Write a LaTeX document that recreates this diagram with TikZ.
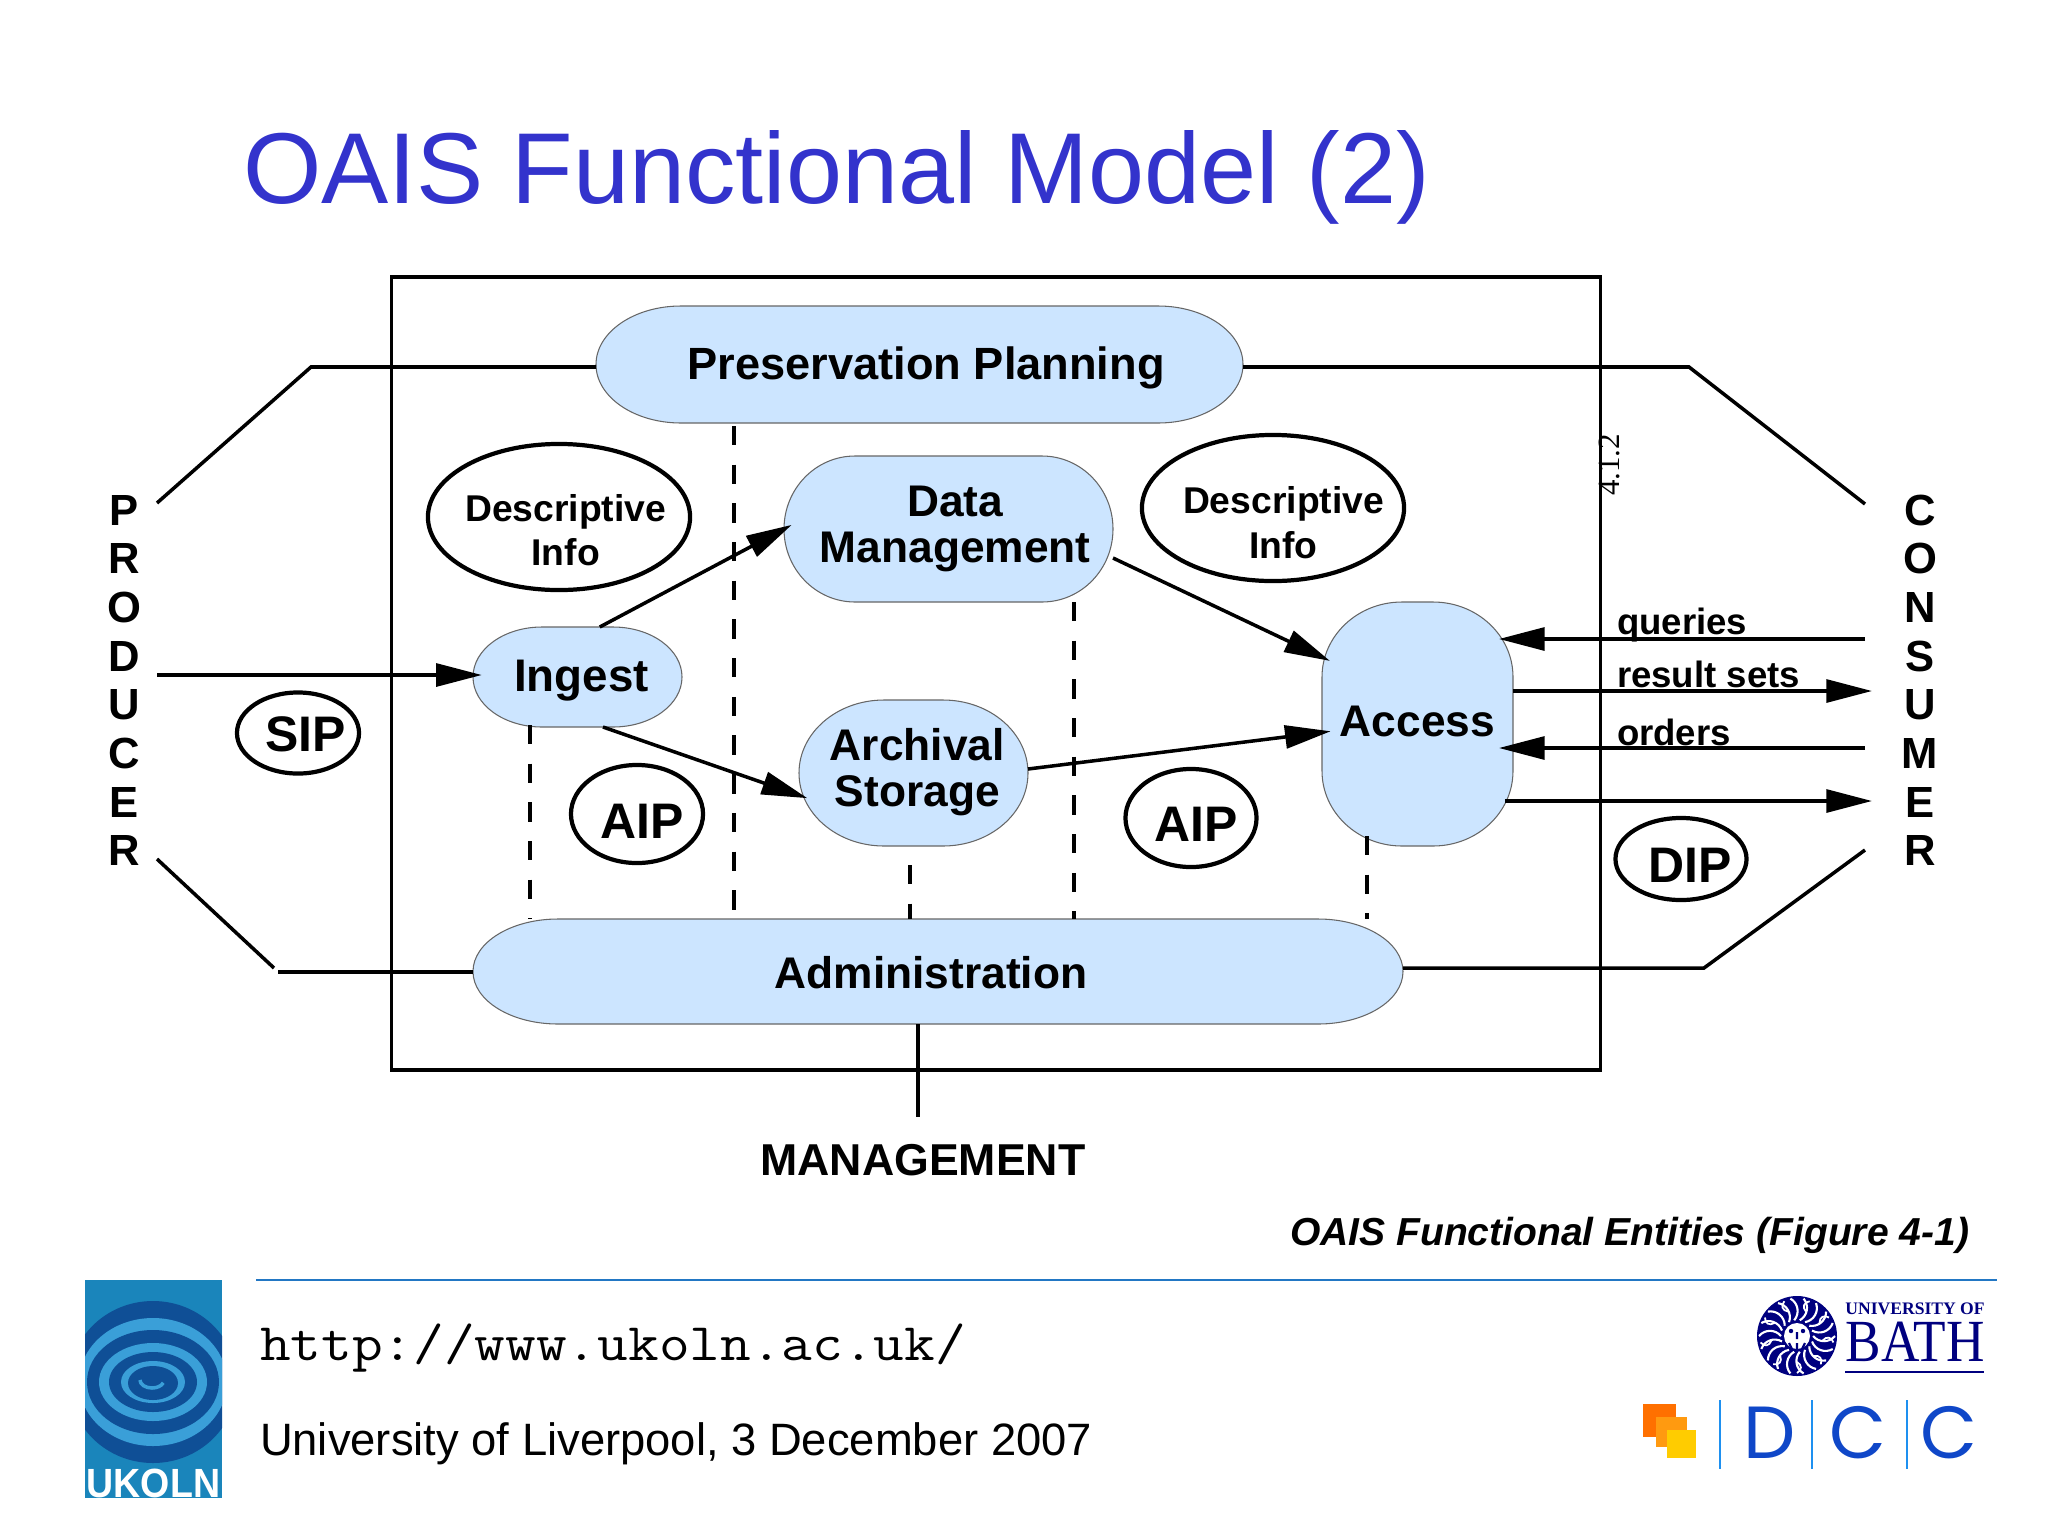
\documentclass[tikz,border=0pt]{standalone}
\usepackage{fontspec}
\setmainfont{Liberation Sans}
\newfontfamily\bathfont{Liberation Serif}
\newfontfamily\dccfont{Poppins}
\usetikzlibrary{arrows.meta,shapes.geometric}
\definecolor{titleblue}{HTML}{3333CC}
\definecolor{boxblue}{HTML}{CCE5FF}
\definecolor{ruleblue}{HTML}{2277C4}
\definecolor{bathblue}{HTML}{00007F}
\definecolor{dccblue}{HTML}{0F47C8}
\definecolor{dccbar}{HTML}{1E90F0}
\definecolor{dccone}{HTML}{FF7000}
\definecolor{dcctwo}{HTML}{FF9A10}
\definecolor{dccthree}{HTML}{FFCC00}
\definecolor{eyedark}{HTML}{0F4F96}
\definecolor{eyelight}{HTML}{3A9FD8}
\definecolor{eyeback}{HTML}{1A85BB}
\newcommand{\nudge}[3]{\raisebox{#2}[\height][\depth]{\makebox[0pt]{\hspace*{#1}#3}}}
\newcommand{\funcnode}[8]{%
  \draw [capsule] ({#2-#4/2},{#3-#5/2+#7})
    arc [start angle=180,end angle=270,x radius=#6,y radius=#7] -- ({#2+#4/2-#6},{#3-#5/2})
    arc [start angle=270,end angle=360,x radius=#6,y radius=#7] -- ({#2+#4/2},{#3+#5/2-#7})
    arc [start angle=0,end angle=90,x radius=#6,y radius=#7] -- ({#2-#4/2+#6},{#3+#5/2})
    arc [start angle=90,end angle=180,x radius=#6,y radius=#7] -- cycle;
  \node [func,minimum width={#4*0.01cm},minimum height={#5*0.01cm}] (#1) at (#2,#3) {#8};}
\begin{document}
\begin{tikzpicture}
      [x=0.01cm,y=-0.01cm,
       every node/.style={inner sep=0pt,outer sep=0pt},
       capsule/.style={draw=gray!80!black,line width=0.3pt,fill=boxblue},
       func/.style={align=center,font=\bfseries\fontsize{12.6}{13}\selectfont},
       tag/.style={draw,ellipse,line width=1.2pt,fill=white,align=center,
         font=\bfseries\fontsize{10.6}{12.6}\selectfont},
       pack/.style={tag,font=\bfseries\fontsize{14.2}{15}\selectfont},
       entity/.style={font=\bfseries\fontsize{12.4}{13}\selectfont},
       flow/.style={line width=1pt},
       flowtip/.style={flow,-{Triangle[length=13pt,width=6.5pt]}},
       dashln/.style={line width=1pt,dash pattern=on 5.5pt off 5.5pt},
       smalllbl/.style={anchor=base west,font=\bfseries\fontsize{10.4}{12}\selectfont}]
      \useasboundingbox (0,0) rectangle (2048,1536);

      \node [anchor=west,text=titleblue,font=\fontsize{28.65}{30}\selectfont] (title) at (243,177) {OAIS Functional Model (2)};

      \node [draw,line width=1pt,minimum width=12.08cm,minimum height=7.93cm] (frame) at (996,673.5) {};

      \funcnode{pp}{919.5}{364.5}{647}{117}{85}{58.5}{\nudge{3.8pt}{-1.1pt}{\fontsize{12.85}{13}\selectfont Preservation Planning}}
      \funcnode{dm}{948.5}{529}{329}{146}{71}{73}{\nudge{3.8pt}{0pt}{Data}\\\nudge{3.8pt}{0pt}{Management}}
      \funcnode{ing}{577.5}{677}{209}{100}{69}{50}{\nudge{2.2pt}{-1.1pt}{\fontsize{13}{13}\selectfont Ingest}}
      \funcnode{as}{913.5}{773}{229}{146}{85}{73}{\nudge{2.2pt}{0.3pt}{Archival}\\\nudge{2.2pt}{0.3pt}{Storage}}
      \funcnode{acc}{1417.5}{724}{191}{244}{80}{75}{\nudge{0pt}{0.7pt}{Access}}
      \funcnode{adm}{938}{971.5}{930}{105}{85}{52.5}{\nudge{-4pt}{-0.3pt}{Administration}}

      \node [tag,minimum width=2.62cm,minimum height=1.46cm] (di1) at (559,517) {\nudge{3.8pt}{-3.7pt}{Descriptive}\\\nudge{3.8pt}{-3.7pt}{Info}};
      \node [tag,minimum width=2.62cm,minimum height=1.46cm] (di2) at (1273,508) {\nudge{6pt}{-4.2pt}{Descriptive}\\\nudge{6pt}{-4.2pt}{Info}};
      \node [pack,minimum width=1.22cm,minimum height=0.81cm] (sip) at (298,733) {\nudge{4.4pt}{-0.4pt}{SIP}};
      \node [pack,minimum width=1.32cm,minimum height=0.98cm] (aip1) at (637,814) {\nudge{3pt}{-2.2pt}{AIP}};
      \node [pack,minimum width=1.31cm,minimum height=0.98cm] (aip2) at (1191,818) {\nudge{3pt}{-1.9pt}{AIP}};
      \node [pack,minimum width=1.31cm,minimum height=0.82cm] (dip) at (1681,859) {\nudge{5.2pt}{-1.9pt}{DIP}};

      \foreach \ch [count=\i] in {P,R,O,D,U,C,E,R}
      \node [entity] (prod\i) at (124,{510+(\i-1)*48.7}) {\ch};
      \foreach \ch [count=\i] in {C,O,N,S,U,M,E,R}
      \node [entity] (cons\i) at (1920,{510+(\i-1)*48.7}) {\ch};
      \node [entity,font=\bfseries\fontsize{12.7}{14}\selectfont] (mgmt) at (923,1160) {MANAGEMENT};

      \coordinate (pt) at (157,503);
      \coordinate (pt2) at (311,367);
      \coordinate (pm) at (157,675);
      \coordinate (pb) at (157,859);
      \coordinate (pb2) at (274,968);
      \coordinate (pb3) at (278,972);
      \coordinate (ct) at (1865,504);
      \coordinate (ct2) at (1689,367);
      \coordinate (cb) at (1865,850);
      \coordinate (cb2) at (1704,968);
      \coordinate (cq) at (1865,639);
      \coordinate (cr) at (1872,691);
      \coordinate (co) at (1865,748);
      \coordinate (cd) at (1872,801);
      \coordinate (mg) at (918,1117);
      \coordinate (dp) at (734,426);
      \coordinate (di) at (530,725);
      \coordinate (da) at (910,865);
      \coordinate (dd) at (1074,602);
      \coordinate (dx) at (1367,836);

      \foreach \from in {dp,di,da,dd,dx}
      \draw [dashln] (\from) -- (\from |- adm.north);

      \draw [flow] (pt) -- (pt2) -- (pp.west |- pt2);
      \draw [flow] (pp.east |- ct2) -- (ct2) -- (ct);
      \draw [flow] (pb) -- (pb2);
      \draw [flow] (pb3) -- (adm.west |- pb3);
      \draw [flow] (adm.east |- cb2) -- (cb2) -- (cb);
      \draw [flow] (adm.south -| mg) -- (mg);

      \foreach \from/\to in {pm/pm -| ing.west, ing.66/dm.180, ing.-63/as.191, dm.-10.5/acc.145, as.2.5/acc.185.4}
      \draw [flowtip,shorten >=-2.5pt] (\from) -- (\to);

      \foreach \from in {cq,co}
      \draw [flowtip,shorten >=-4pt] (\from) -- (\from -| acc.east);
      \draw [flowtip] (cr -| acc.east) -- (cr);
      \draw [flowtip,shorten <=-2.3pt] (cd -| acc.east) -- (cd);

      \node [smalllbl] (lq) at (1617,634) {queries};
      \node [smalllbl] (lr) at (1617,687) {result sets};
      \node [smalllbl] (lo) at (1617,745) {orders};

      \node [rotate=90,font=\bathfont\fontsize{8.8}{9}\selectfont] (ver) at (1609,465) {4.1.2};

      \node [anchor=east,font=\bfseries\itshape\fontsize{11.1}{12}\selectfont] (fig) at (1969,1235) {OAIS Functional Entities (Figure 4-1)};

      \draw [ruleblue,line width=0.7pt] (256,1280) -- (1997,1280);
      \node [anchor=west,xscale=1.13,font=\ttfamily\fontsize{15}{16}\selectfont] (url) at (260,1348) {http://www.ukoln.ac.uk/};
      \node [anchor=west,font=\fontsize{12.9}{14}\selectfont] (place) at (260,1444) {University of Liverpool, 3 December 2007};

      \begin{scope}
        \clip (85,1280) rectangle (222,1498);
        \fill [eyeback] (85,1280) rectangle (222,1498);
        \foreach \rx/\ry/\col in {84/81/eyedark,74/64/eyelight,66/52/eyedark,54/39/eyelight,44/30/eyedark,32/21/eyelight}
        \fill [\col] (153,1382) ellipse [x radius=\rx,y radius=\ry];
        \fill [eyedark] (153,1383) ellipse [x radius=25,y radius=17];
        \draw [eyelight,line width=1pt] (140,1380) arc [start angle=180,end angle=20,x radius=12,y radius=8];
      \end{scope}
      \node [text=white,xscale=0.92,font=\bfseries\fontsize{11.6}{12}\selectfont] (ukoln) at (153.5,1483) {UKOLN};

      \fill [bathblue] (1797,1336) circle [radius=40];
      \foreach \a in {0,20,...,340}
      \draw [white,line width=0.6pt] (1797,1336) ++(\a:16) .. controls +(\a+50:9) and +(\a-50:-9) .. ++(\a:22);
      \foreach \a in {10,50,...,350}
      \draw [white,line width=0.5pt] (1797,1336) ++(\a:26) .. controls +(\a-60:6) and +(\a+60:-6) .. ++(\a:11);
      \fill [white] (1797,1336) circle [radius=13];
      \fill [bathblue] (1791,1331) circle [radius=2.2] (1803,1331) circle [radius=2.2];
      \draw [bathblue,line width=0.6pt] (1797,1332) -- (1797,1339) (1789,1343) -- (1792,1349) (1797,1343) -- (1797,1349) (1805,1343) -- (1802,1349);
      \node [text=bathblue,font=\bathfont\bfseries\fontsize{5}{6}\selectfont] (bath1) at (1915,1309) {UNIVERSITY OF};
      \node [text=bathblue,xscale=0.89,font=\bathfont\fontsize{17}{18}\selectfont] (bath2) at (1915,1342) {BATH};
      \draw [bathblue,line width=0.8pt] (1845,1372) -- (1984,1372);

      \fill [dccone] (1643,1404) rectangle (1676,1437);
      \fill [dcctwo] (1656,1417) rectangle (1687,1447);
      \fill [dccthree] (1667,1430) rectangle (1696,1458);
      \foreach \x in {1720,1812,1907}
      \draw [dccbar,line width=0.6pt] (\x,1400) -- (\x,1469);
      \foreach \x/\ch in {1770/D,1858/C,1949/C}
      \node [text=dccblue,font=\dccfont\fontsize{21}{22}\selectfont] (dcc\ch\x) at (\x,1433) {\ch};
    \end{tikzpicture}
\end{document}
